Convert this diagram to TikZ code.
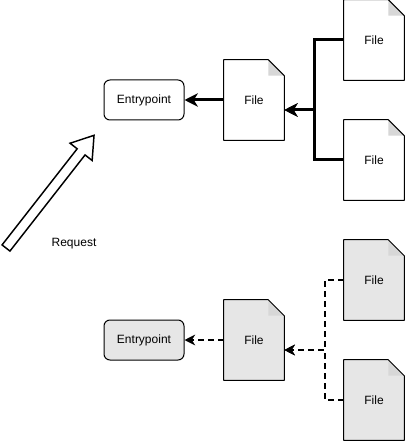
\documentclass[tikz,border=0pt]{standalone}
\usepackage{fontspec}
\setmainfont{Liberation Sans}
\usepackage{tikz}
\usetikzlibrary{arrows.meta, positioning, calc, backgrounds}
\definecolor{pagegray}{RGB}{230, 230, 230}
\definecolor{foldgray}{RGB}{215, 215, 215}

\newcommand{\docpage}[2]{%
  \begin{scope}[on background layer]
    \fill[#2] (#1.north west) -- ([xshift=-12pt]#1.north east) -- ([yshift=-12pt]#1.north east)
      -- (#1.south east) -- (#1.south west) -- cycle;
    \fill[foldgray] ([xshift=-12pt]#1.north east) -- ([xshift=-12pt, yshift=-12pt]#1.north east)
      -- ([yshift=-12pt]#1.north east) -- cycle;
    \draw[line width=0.75pt, line join=round] (#1.north west) -- ([xshift=-12pt]#1.north east)
      -- ([yshift=-12pt]#1.north east) -- (#1.south east) -- (#1.south west) -- cycle;
  \end{scope}
}

\tikzset{
  entry/.style={draw, line width=0.75pt, rounded corners=4.5pt, minimum width=60pt, minimum height=30pt, font=\fontsize{9}{11}\selectfont},
  filedoc/.style={minimum width=45pt, minimum height=60pt, inner sep=0pt, font=\fontsize{9}{11}\selectfont},
  solidlink/.style={line width=2.25pt, -{Stealth[length=10pt, width=10pt, inset=3pt]}},
  dashlink/.style={line width=1.5pt, dash pattern=on 4.5pt off 3pt, -{Stealth[length=8pt, width=8pt, inset=2.5pt]}}
}

\begin{document}
\begin{tikzpicture}[x=0.75pt, y=-0.75pt]
  \useasboundingbox (0,0) rectangle (406,441);

  \node[entry] (entryA) at (144,100) {Entrypoint};
  \node[filedoc] (midA) at (254,100) {File};
  \node[filedoc] (topA) at (374,40) {File};
  \node[filedoc] (botA) at (374,160) {File};
  \docpage{midA}{white}
  \docpage{topA}{white}
  \docpage{botA}{white}
  \coordinate (joinA) at (314,110);

  \draw[solidlink] (midA) -- (entryA);
  \draw[solidlink] (topA.west) -| (joinA) -- (joinA -| midA.east);
  \draw[solidlink] (botA.west) -| (joinA) -- (joinA -| midA.east);

  \node[entry, fill=pagegray] (entryB) at (144,340) {Entrypoint};
  \node[filedoc] (midB) at (254,340) {File};
  \node[filedoc] (topB) at (374,280) {File};
  \node[filedoc] (botB) at (374,400) {File};
  \docpage{midB}{pagegray}
  \docpage{topB}{pagegray}
  \docpage{botB}{pagegray}
  \coordinate (joinB) at (325,350);

  \draw[dashlink] (midB) -- (entryB);
  \draw[dashlink] (topB.west) -| (joinB) -- (joinB -| midB.east);
  \draw[dashlink] (botB.west) -| (joinB) -- (joinB -| midB.east);

  \begin{scope}[shift={(6,248)}, rotate=52]
    \draw[line width=1.1pt, line join=miter, fill=white] (0,-5) -- (122,-5) -- (122,-14) -- (143,0)
      -- (122,14) -- (122,5) -- (0,5) -- cycle;
  \end{scope}
  \node[font=\fontsize{9}{11}\selectfont] (request) at (74,244) {Request};
\end{tikzpicture}
\end{document}
